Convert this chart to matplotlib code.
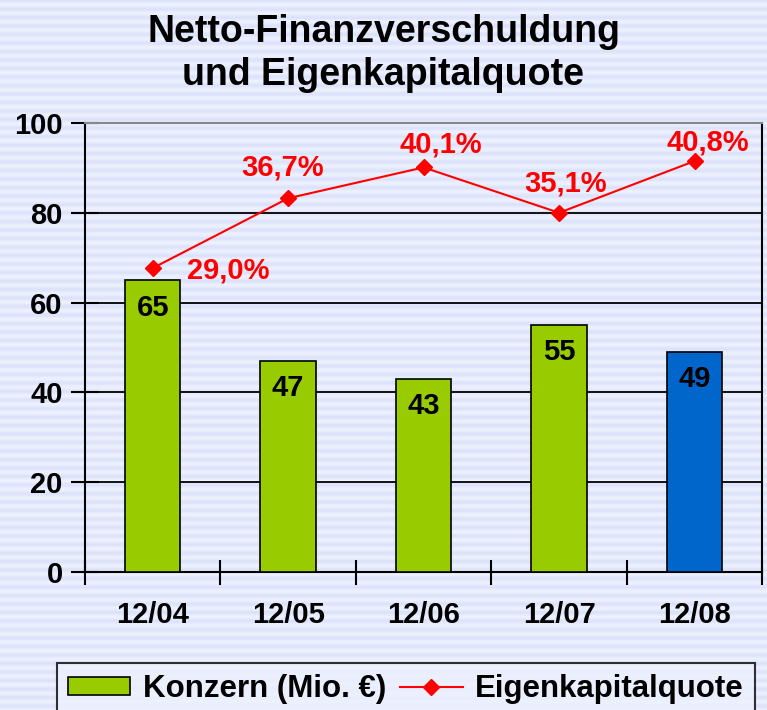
import numpy as np
import matplotlib.pyplot as plt
from matplotlib.patches import Patch
from matplotlib.lines import Line2D

# chart data
categories = ['12/04', '12/05', '12/06', '12/07', '12/08']
netto_fin = [65, 47, 43, 55, 49]          # Konzern (Mio. €)
ek_quote = [29.0, 36.7, 40.1, 35.1, 40.8]  # Eigenkapitalquote in %
bar_colors = ['#99CC00', '#99CC00', '#99CC00', '#99CC00', '#0066CC']

plt.rcParams['font.family'] = ['Liberation Sans', 'DejaVu Sans']
plt.rcParams['font.weight'] = 'bold'

fig = plt.figure(figsize=(7.67, 7.10), dpi=100)

# striped lavender background
bg = fig.add_axes([0, 0, 1, 1], zorder=-10)
rows = np.arange(710)
shade = 0.5 + 0.5 * np.cos(2 * np.pi * rows / 8.5)
light = np.array([0.93, 0.945, 1.0])
dark = np.array([0.865, 0.89, 0.98])
stripe = light[None, :] * (1 - shade[:, None]) + dark[None, :] * shade[:, None]
bg.imshow(np.repeat(stripe[:, None, :], 4, axis=1), aspect='auto',
          extent=[0, 1, 0, 1], interpolation='bilinear')
bg.axis('off')

ax = fig.add_axes([0.1108, 0.1944, 0.883, 0.6324])
ax.patch.set_alpha(0)
x = np.arange(len(categories))

ax.bar(x, netto_fin, width=0.41, color=bar_colors, edgecolor='black',
       linewidth=1.2, zorder=3)
for xi, v in zip(x, netto_fin):
    ax.text(xi, v - 3.0, str(v), ha='center', va='top', fontsize=21,
            fontweight='bold', color='black', zorder=4)

ax.set_xlim(-0.5, len(categories) - 0.5)
ax.set_ylim(0, 100)
ax.set_yticks([0, 20, 40, 60, 80, 100])
ax.tick_params(axis='y', direction='inout', length=20, width=1.5,
               labelsize=21, pad=6)
ax.set_xticks(np.arange(-0.5, len(categories), 1.0))
ax.set_xticklabels([])
ax.tick_params(axis='x', which='major', direction='inout', length=18, width=1.5)
ax.set_xticks(x, minor=True)
ax.set_xticklabels(categories, minor=True)
ax.tick_params(axis='x', which='minor', length=0, labelsize=21, pad=21)

for g in [20, 40, 60, 80]:
    ax.axhline(g, color='black', linewidth=1.3, zorder=1)
ax.spines['top'].set_color('#888888')
ax.spines['top'].set_linewidth(1.5)
for s in ['left', 'right', 'bottom']:
    ax.spines[s].set_color('black')
    ax.spines[s].set_linewidth(1.5)

# secondary scale for the equity ratio
ax2 = ax.twinx()
ax2.set_ylim(-4.5, 45.0)
ax2.axis('off')
ax2.plot(x, ek_quote, color='#FF0000', linewidth=1.5, marker='D',
         markersize=8, zorder=5)

label_offsets = [(0.56, -0.3), (-0.04, 3.4), (0.13, 2.5), (0.05, 3.2), (0.1, 2.1)]
for xi, v, (dx, dy) in zip(x, ek_quote, label_offsets):
    ax2.text(xi + dx, v + dy, f'{v:.1f}%'.replace('.', ','), ha='center',
             va='center', fontsize=21, fontweight='bold', color='#FF0000')

fig.text(0.5, 0.955, 'Netto-Finanzverschuldung', ha='center', va='center',
         fontsize=27, fontweight='bold')
fig.text(0.5, 0.895, 'und Eigenkapitalquote', ha='center', va='center',
         fontsize=27, fontweight='bold')

handles = [Patch(facecolor='#99CC00', edgecolor='black', linewidth=1.2),
           Line2D([0], [0], color='#FF0000', linewidth=1.5, marker='D',
                  markersize=8)]
leg = fig.legend(handles, ['Konzern (Mio. €)', 'Eigenkapitalquote'],
                 loc='upper left', bbox_to_anchor=(0.074, 0.066), ncol=2,
                 fontsize=22.5, frameon=True, fancybox=False, handlelength=2.0,
                 handleheight=0.55, columnspacing=0.45, handletextpad=0.4,
                 borderpad=0.35, borderaxespad=0)
leg.get_frame().set_edgecolor('black')
leg.get_frame().set_linewidth(1.5)
leg.get_frame().set_facecolor('#EDF0FD')
for t in leg.get_texts():
    t.set_fontweight('bold')

fig.savefig('out.png', dpi=100)
